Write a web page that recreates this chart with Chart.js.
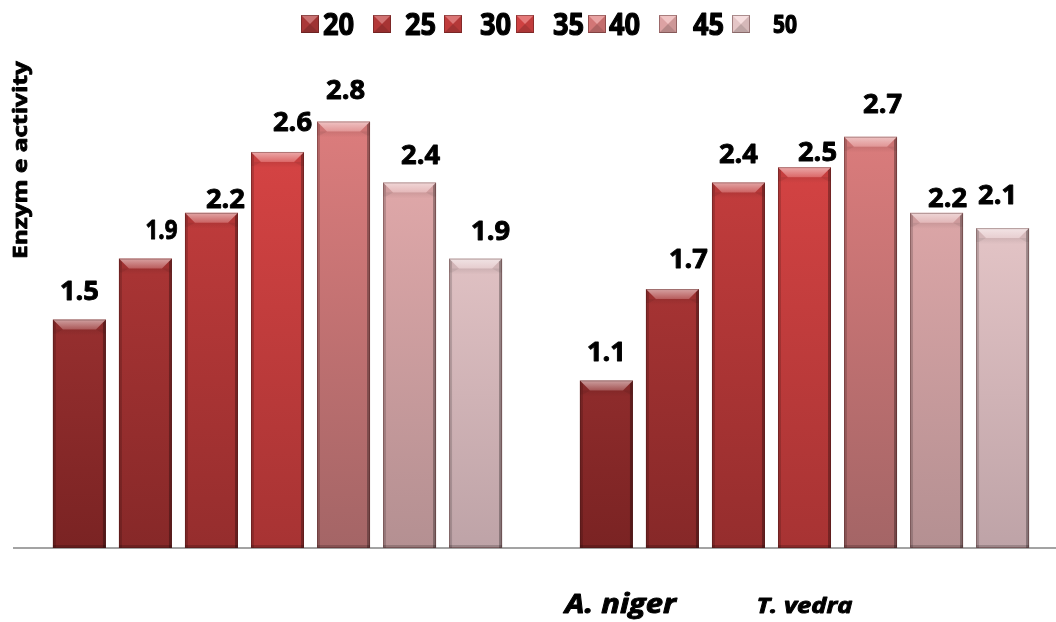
<!DOCTYPE html>
<html>
<head>
<meta charset="utf-8">
<script src="https://cdn.jsdelivr.net/npm/chart.js@4/dist/chart.umd.min.js"></script>
<style>
  html, body { margin: 0; padding: 0; background: #ffffff; overflow: hidden; }
  #wrap { width: 1056px; height: 622px; position: relative; overflow: hidden; }
  #chart { position: absolute; left: 0; top: 0; }
</style>
</head>
<body>
<div id="wrap"><canvas id="chart" width="1068" height="622"></canvas></div>
<script>
// Organisms on the category axis
const categories = ['A. niger', 'T. vedra'];
// Temperature series (legend labels)
const temperatures = ['20', '25', '30', '35', '40', '45', '50'];
// Enzyme activity per temperature, [A. niger, T. vedra]
const t20 = [1.5, 1.1];
const t25 = [1.9, 1.7];
const t30 = [2.2, 2.4];
const t35 = [2.6, 2.5];
const t40 = [2.8, 2.7];
const t45 = [2.4, 2.2];
const t50 = [1.9, 2.1];
const seriesValues = [t20, t25, t30, t35, t40, t45, t50];
const yAxisTitle = 'Enzym e activity';

// Bar colours, light (top of plot) to dark (base)
const topColors = ['#b43b3b', '#bf3c3c', '#cd4040', '#dc4646', '#e07e7e', '#eaadae', '#f3d2d3'];
const baseColors = ['#7a2323', '#862828', '#952d2d', '#a73333', '#a46566', '#b49092', '#bea3a7'];

// Value label nudges (pixels) relative to the bar top, per series, per category
const labelDx = [[0, 0], [16, 16], [14, 0], [15, 13], [2, 12], [11, 11], [15, -5]];
const labelDy = [[-29, -29], [-29, -30], [-14, -29], [-30, -15], [-32, -33], [-28, -15], [-28, -33]];
const labelScaleX = [[1.05, 1.05], [0.86, 1.05], [1.05, 1.05], [1.05, 1.05], [1.05, 1.05], [1.05, 1.05], [1.05, 1.05]];

const FONT = '"Open Sans", Lato, sans-serif';
const CAP = 0.714;

function barGradient(chart, i) {
  const area = chart.chartArea;
  if (!area) return topColors[i];
  const g = chart.ctx.createLinearGradient(0, area.top, 0, area.bottom);
  g.addColorStop(0, topColors[i]);
  g.addColorStop(1, baseColors[i]);
  return g;
}

// Heavy black text on an alphabetic baseline, with an optional horizontal stretch
function drawText(ctx, text, x, baseline, font, sx, align, weight) {
  ctx.save();
  ctx.translate(x, baseline);
  ctx.scale(sx, 1);
  ctx.font = font;
  ctx.textAlign = align || 'center';
  ctx.textBaseline = 'alphabetic';
  ctx.fillStyle = '#000000';
  ctx.fillText(text, 0, 0);
  ctx.strokeStyle = '#000000';
  ctx.lineJoin = 'round';
  ctx.lineWidth = weight === undefined ? 0.9 : weight;
  if (ctx.lineWidth > 0) ctx.strokeText(text, 0, 0);
  ctx.restore();
}

function widthOf(ctx, text, font) {
  ctx.save();
  ctx.font = font;
  const w = ctx.measureText(text).width;
  ctx.restore();
  return w;
}

// Bevelled look on each bar drawn by the bar controller
const bevelPlugin = {
  id: 'bevel',
  afterDatasetsDraw(chart) {
    const ctx = chart.ctx;
    chart.data.datasets.forEach((ds, i) => {
      const meta = chart.getDatasetMeta(i);
      meta.data.forEach(bar => {
        const p = bar.getProps(['x', 'y', 'base', 'width'], true);
        const l = p.x - p.width / 2, r = p.x + p.width / 2, t = p.y, b = p.base;
        const bev = 10, s = 3;
        ctx.save();
        // side edges
        ctx.fillStyle = 'rgba(0,0,0,0.16)';
        ctx.beginPath(); ctx.moveTo(l, t); ctx.lineTo(l + s, t + s); ctx.lineTo(l + s, b); ctx.lineTo(l, b); ctx.closePath(); ctx.fill();
        ctx.fillStyle = 'rgba(0,0,0,0.30)';
        ctx.beginPath(); ctx.moveTo(r, t); ctx.lineTo(r - s, t + s); ctx.lineTo(r - s, b); ctx.lineTo(r, b); ctx.closePath(); ctx.fill();
        // corner diagonals
        ctx.fillStyle = 'rgba(0,0,0,0.06)';
        ctx.beginPath(); ctx.moveTo(l, t); ctx.lineTo(l + bev, t + bev); ctx.lineTo(l + s, t + bev + 4); ctx.lineTo(l, t + bev + 4); ctx.closePath(); ctx.fill();
        ctx.beginPath(); ctx.moveTo(r, t); ctx.lineTo(r - bev, t + bev); ctx.lineTo(r - s, t + bev + 4); ctx.lineTo(r, t + bev + 4); ctx.closePath(); ctx.fill();
        // top highlight
        const hg = ctx.createLinearGradient(0, t, 0, t + bev);
        hg.addColorStop(0, 'rgba(255,255,255,0.55)');
        hg.addColorStop(1, 'rgba(255,255,255,0.20)');
        ctx.fillStyle = hg;
        ctx.beginPath(); ctx.moveTo(l, t); ctx.lineTo(r, t); ctx.lineTo(r - bev, t + bev); ctx.lineTo(l + bev, t + bev); ctx.closePath(); ctx.fill();
        // shade under the top bevel
        const sg = ctx.createLinearGradient(0, t + bev, 0, t + bev + 6);
        sg.addColorStop(0, 'rgba(0,0,0,0.08)');
        sg.addColorStop(1, 'rgba(0,0,0,0)');
        ctx.fillStyle = sg;
        ctx.fillRect(l + s, t + bev, r - l - 2 * s, 6);
        // base edge
        ctx.fillStyle = 'rgba(0,0,0,0.18)';
        ctx.fillRect(l, b - 3, r - l, 3);
        // outline
        ctx.strokeStyle = 'rgba(60,20,20,0.35)';
        ctx.lineWidth = 1;
        ctx.strokeRect(l + 0.5, t + 0.5, r - l - 1, b - t - 1);
        ctx.restore();
      });
    });
  }
};

// Value labels above bars
const valueLabelPlugin = {
  id: 'valueLabels',
  afterDatasetsDraw(chart) {
    const ctx = chart.ctx;
    const size = 26;
    chart.data.datasets.forEach((ds, i) => {
      const meta = chart.getDatasetMeta(i);
      meta.data.forEach((bar, j) => {
        const v = ds.data[j];
        const cy = bar.y + labelDy[i][j];
        drawText(ctx, v.toFixed(1), bar.x + labelDx[i][j], cy + size * CAP / 2,
          'bold ' + size + 'px ' + FONT, labelScaleX[i][j]);
      });
    });
  }
};

// Legend row with pyramid-style swatches
const legendBoxX = [301, 373, 444, 516, 588, 659, 732];
const legendTextX = [323, 405, 480, 553, 609, 693, 773];
const legendPlugin = {
  id: 'topLegend',
  afterDraw(chart) {
    const ctx = chart.ctx;
    const y = 15, sz = 18;
    chart.data.datasets.forEach((ds, i) => {
      const x = legendBoxX[i];
      const cx = x + sz / 2, cy = y + sz / 2;
      ctx.save();
      ctx.fillStyle = topColors[i];
      ctx.fillRect(x, y, sz, sz);
      const tri = (pts, col) => {
        ctx.fillStyle = col; ctx.beginPath();
        ctx.moveTo(pts[0], pts[1]); ctx.lineTo(pts[2], pts[3]); ctx.lineTo(pts[4], pts[5]);
        ctx.closePath(); ctx.fill();
      };
      tri([x, y, x + sz, y, cx, cy], 'rgba(255,255,255,0.28)');
      tri([x, y + sz, x + sz, y + sz, cx, cy], 'rgba(0,0,0,0.22)');
      tri([x, y, x, y + sz, cx, cy], 'rgba(0,0,0,0.06)');
      tri([x + sz, y, x + sz, y + sz, cx, cy], 'rgba(0,0,0,0.12)');
      ctx.strokeStyle = 'rgba(60,20,20,0.4)';
      ctx.lineWidth = 1;
      ctx.strokeRect(x + 0.5, y + 0.5, sz - 1, sz - 1);
      ctx.restore();
      const last = i === temperatures.length - 1;
      drawText(ctx, ds.label, legendTextX[i], last ? 33 : 35,
        'bold ' + (last ? 25 : 31) + 'px ' + FONT, last ? 0.84 : 0.88, 'left', 1.2);
    });
  }
};

// Axis title and organism names
const textPlugin = {
  id: 'axisTexts',
  afterDraw(chart) {
    const ctx = chart.ctx;
    const titleFont = 'bold 20px ' + FONT;
    const tw = widthOf(ctx, yAxisTitle, titleFont);
    ctx.save();
    ctx.translate(27, 160);
    ctx.rotate(-Math.PI / 2);
    drawText(ctx, yAxisTitle, 0, 0, titleFont, 198 / tw, 'center', 0.8);
    ctx.restore();

    const xs = chart.scales.x;
    const c2 = xs.getPixelForValue(1);
    const nameFontA = 'italic bold 26px ' + FONT;
    const nameFontT = 'italic bold 22px ' + FONT;
    const w0 = widthOf(ctx, categories[0], nameFontA);
    const w1 = widthOf(ctx, categories[1], nameFontT);
    drawText(ctx, categories[0], c2 - 184, 613, nameFontA, 111 / w0);
    drawText(ctx, categories[1], c2, 613, nameFontT, 96 / w1);
  }
};

new Chart(document.getElementById('chart'), {
  type: 'bar',
  data: {
    labels: categories,
    datasets: temperatures.map((t, i) => ({
      label: t,
      data: seriesValues[i],
      backgroundColor: c => barGradient(c.chart, i),
      borderWidth: 0,
      categoryPercentage: 0.877,
      barPercentage: 0.803
    }))
  },
  options: {
    responsive: false,
    animation: false,
    layout: { padding: { top: 91, bottom: 74, left: 14, right: 0 } },
    plugins: { legend: { display: false }, tooltip: { enabled: false } },
    scales: {
      x: {
        grid: { display: false, drawTicks: false },
        ticks: { display: false },
        border: { color: '#a3a3a3', width: 2 }
      },
      y: { display: false, min: 0, max: 3 }
    }
  },
  plugins: [bevelPlugin, valueLabelPlugin, legendPlugin, textPlugin]
});
</script>
</body>
</html>
